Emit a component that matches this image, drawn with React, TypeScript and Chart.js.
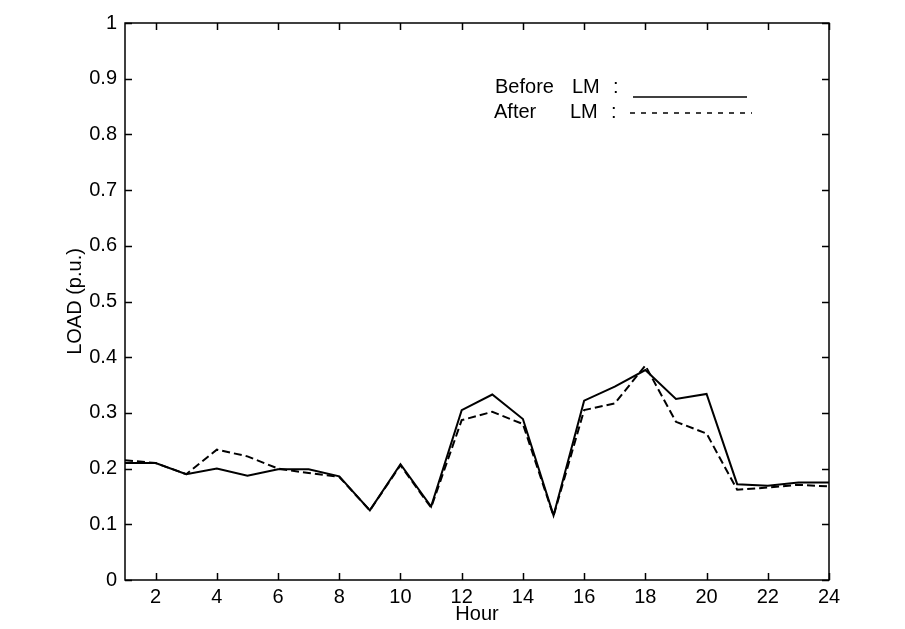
import React, { useEffect, useRef } from "react";
import { Chart, registerables } from "chart.js";

Chart.register(...registerables);

const hours = [1, 2, 3, 4, 5, 6, 7, 8, 9, 10, 11, 12, 13, 14, 15, 16, 17, 18, 19, 20, 21, 22, 23, 24];
const beforeLM = [0.21, 0.21, 0.19, 0.2, 0.187, 0.199, 0.199, 0.186, 0.125, 0.208, 0.132, 0.305, 0.333, 0.289, 0.116, 0.322, 0.347, 0.377, 0.325, 0.334, 0.172, 0.169, 0.175, 0.175];
const afterLM = [0.215, 0.21, 0.19, 0.234, 0.222, 0.2, 0.192, 0.185, 0.125, 0.206, 0.13, 0.287, 0.302, 0.28, 0.115, 0.305, 0.317, 0.385, 0.284, 0.263, 0.162, 0.166, 0.171, 0.168];
const xTicks = [2, 4, 6, 8, 10, 12, 14, 16, 18, 20, 22, 24];
const yTicks = [0, 0.1, 0.2, 0.3, 0.4, 0.5, 0.6, 0.7, 0.8, 0.9, 1];
const legendNames = ["Before", "After"];
const legendUnit = "LM";
const xTitle = "Hour";
const yTitle = "LOAD (p.u.)";

const FONT = "'Liberation Sans', Arial, sans-serif";

const framePlugin = {
  id: "frameTicks",
  afterDraw(chart: any) {
    const { ctx, chartArea } = chart;
    const xs = chart.scales.x;
    const ys = chart.scales.y;
    const { left, right, top, bottom } = chartArea;
    ctx.save();
    ctx.strokeStyle = "#000";
    ctx.lineWidth = 1.5;
    ctx.setLineDash([]);
    ctx.strokeRect(left, top, right - left, bottom - top);
    const tl = 7;
    ctx.beginPath();
    xTicks.forEach((v) => {
      const px = Math.round(xs.getPixelForValue(v)) + 0.5;
      ctx.moveTo(px, bottom);
      ctx.lineTo(px, bottom - tl);
      ctx.moveTo(px, top);
      ctx.lineTo(px, top + tl);
    });
    yTicks.forEach((v) => {
      const py = Math.round(ys.getPixelForValue(v)) + 0.5;
      ctx.moveTo(left, py);
      ctx.lineTo(left + tl, py);
      ctx.moveTo(right, py);
      ctx.lineTo(right - tl, py);
    });
    ctx.stroke();

    // legend inside plot
    ctx.fillStyle = "#000";
    ctx.font = `20px ${FONT}`;
    ctx.textBaseline = "alphabetic";
    ctx.textAlign = "left";
    ctx.fillText(legendNames[0], 495, 93);
    ctx.fillText(legendUnit, 572, 93);
    ctx.fillText(":", 613, 93);
    ctx.fillText(legendNames[1], 494, 118);
    ctx.fillText(legendUnit, 570, 118);
    ctx.fillText(":", 611, 118);
    ctx.lineWidth = 1.5;
    ctx.beginPath();
    ctx.moveTo(633, 97);
    ctx.lineTo(747, 97);
    ctx.stroke();
    ctx.setLineDash([5, 6]);
    ctx.beginPath();
    ctx.moveTo(630, 113);
    ctx.lineTo(752, 113);
    ctx.stroke();
    ctx.restore();
  },
};

export default function App() {
  const ref = useRef<HTMLCanvasElement | null>(null);
  useEffect(() => {
    if (!ref.current) return;
    const chart = new Chart(ref.current, {
      type: "line",
      data: {
        datasets: [
          {
            label: legendNames[0] + " " + legendUnit,
            data: hours.map((h, i) => ({ x: h, y: beforeLM[i] })),
            borderColor: "#000",
            borderWidth: 2,
            pointRadius: 0,
            tension: 0,
            fill: false,
          },
          {
            label: legendNames[1] + " " + legendUnit,
            data: hours.map((h, i) => ({ x: h, y: afterLM[i] })),
            borderColor: "#000",
            borderWidth: 2,
            borderDash: [8, 4],
            pointRadius: 0,
            tension: 0,
            fill: false,
          },
        ],
      },
      options: {
        animation: false,
        responsive: false,
        devicePixelRatio: 1,
        layout: { padding: { top: 23, right: 76, left: 63, bottom: 3 } },
        plugins: { legend: { display: false }, tooltip: { enabled: false } },
        scales: {
          x: {
            type: "linear",
            min: 1,
            max: 24,
            grid: { display: false, drawTicks: false },
            border: { display: false },
            afterBuildTicks: (s: any) => {
              s.ticks = xTicks.map((v) => ({ value: v }));
            },
            afterFit: (s: any) => {
              s.height = 46;
            },
            ticks: {
              padding: 5,
              color: "#000",
              font: { family: FONT, size: 20 },
              maxRotation: 0,
              autoSkip: false,
              callback: (v: any) => String(v),
            },
            title: {
              display: true,
              text: xTitle,
              color: "#000",
              font: { family: FONT, size: 20 },
              padding: 0,
            },
          },
          y: {
            type: "linear",
            min: 0,
            max: 1,
            grid: { display: false, drawTicks: false },
            border: { display: false },
            afterBuildTicks: (s: any) => {
              s.ticks = yTicks.map((v) => ({ value: v }));
            },
            afterFit: (s: any) => {
              s.width = 62;
            },
            ticks: {
              padding: 8,
              color: "#000",
              font: { family: FONT, size: 20 },
              autoSkip: false,
              callback: (v: any) => String(Math.round(v * 10) / 10),
            },
            title: {
              display: true,
              text: yTitle,
              color: "#000",
              font: { family: FONT, size: 20 },
              padding: 0,
            },
          },
        },
      },
      plugins: [framePlugin],
    });
    return () => chart.destroy();
  }, []);
  return (
    <div style={{ position: "absolute", left: 0, top: 0, width: 905, height: 629, background: "#fff" }}>
      <canvas ref={ref} width={905} height={629} style={{ width: 905, height: 629, display: "block" }} />
    </div>
  );
}
